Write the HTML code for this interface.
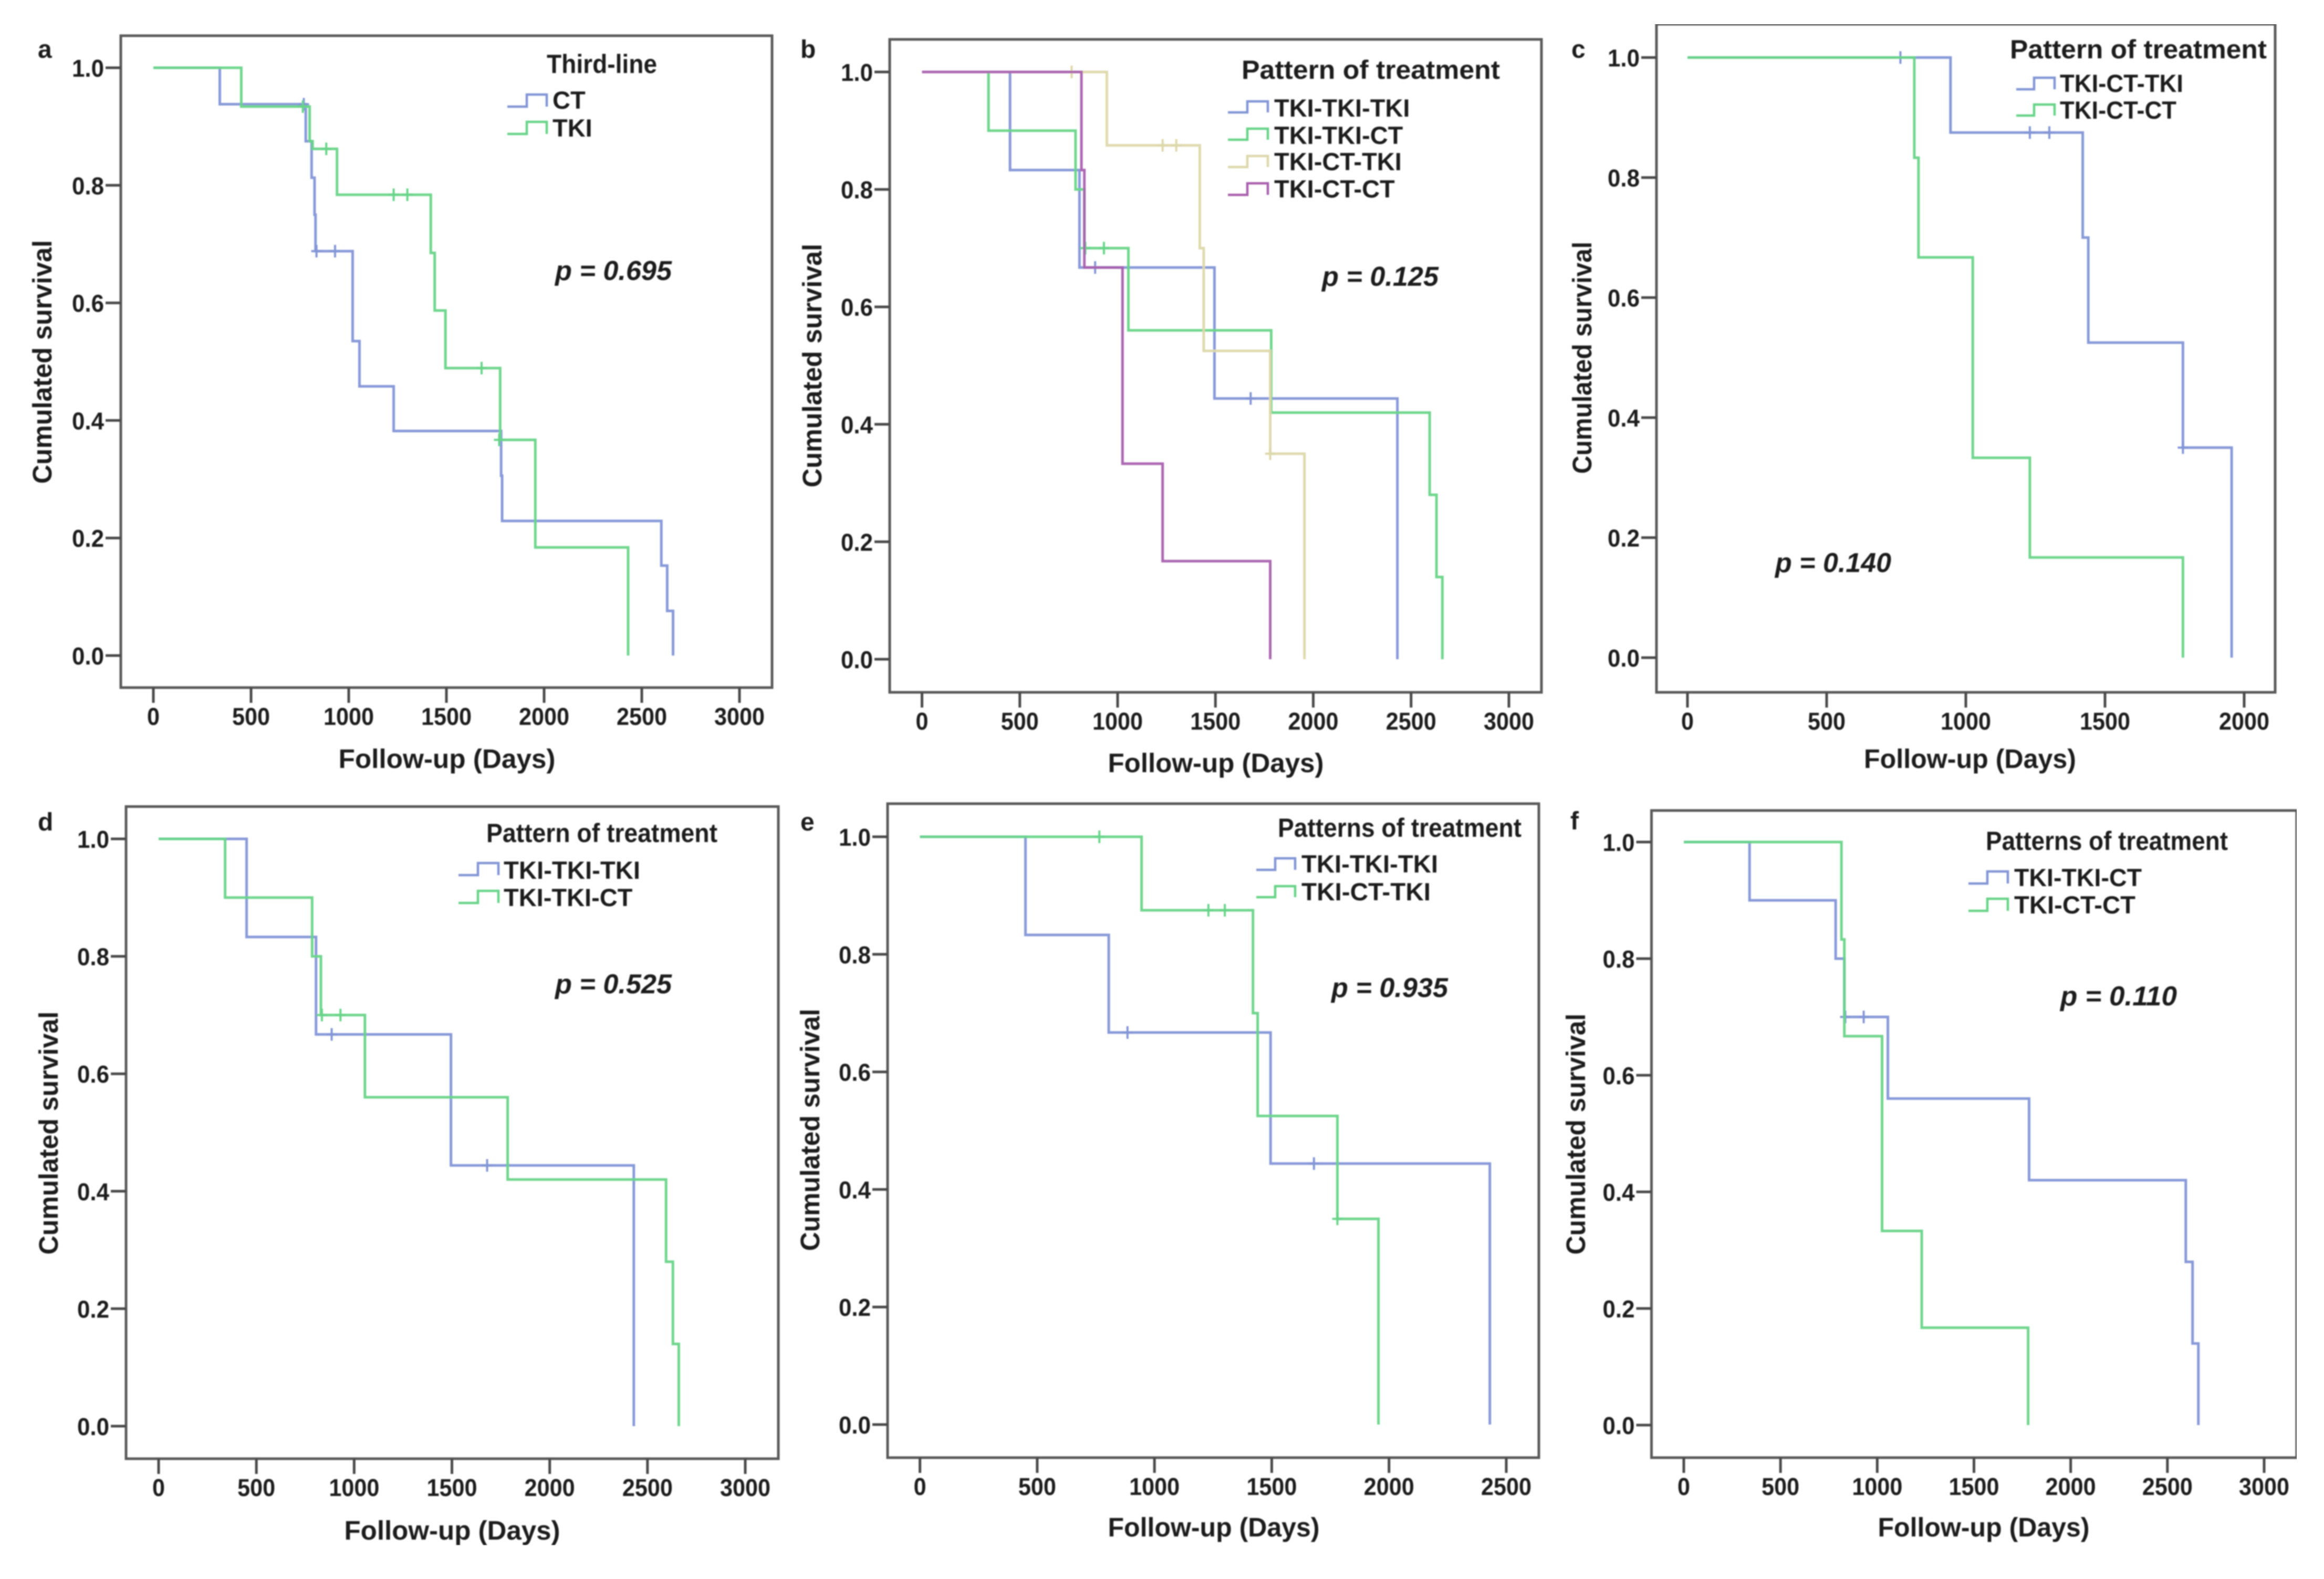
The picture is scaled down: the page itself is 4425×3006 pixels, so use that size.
<!DOCTYPE html>
<html lang="en">
<head>
<meta charset="utf-8">
<title>Kaplan-Meier survival curves by pattern of treatment</title>
<style>
html,body{margin:0;padding:0;background:#fff;width:4425px;height:3006px;overflow:hidden}
svg{display:block}
text{font-family:"Liberation Sans",Arial,sans-serif;font-weight:bold;fill:#1c1c1c}
.frame{fill:none;stroke:#5a5a5a;stroke-width:5}
.key{fill:none;stroke-width:4.5}
.pv{font-style:italic;font-size:52px}
.pl{font-size:48px}
.ax{font-size:51px}
.lg{font-size:47px}
.lt{font-size:50px}
</style>
</head>
<body>
<svg xmlns="http://www.w3.org/2000/svg" width="4425" height="3006" viewBox="0 0 4425 3006">
<defs><filter id="soft" x="0" y="0" width="1" height="1"><feGaussianBlur stdDeviation="1"/></filter></defs>
<g filter="url(#soft)">

<g id="panel-a">
<rect class="frame" x="230" y="68" width="1240" height="1241"/>
<text class="pl" x="72" y="110">a</text>
<text class="ax" x="851" y="1462" text-anchor="middle" textLength="413" lengthAdjust="spacingAndGlyphs">Follow-up (Days)</text>
<text class="ax" transform="translate(98 689) rotate(-90)" text-anchor="middle" textLength="464" lengthAdjust="spacingAndGlyphs">Cumulated survival</text>
<text class="lt" x="1041" y="139" textLength="210" lengthAdjust="spacingAndGlyphs">Third-line</text>
<path class="key" d="M966 203H1003V180H1041V203" stroke="#8295d6"/>
<text class="lg" x="1052" y="207">CT</text>
<path class="key" d="M966 255H1003V232H1041V255" stroke="#68d488"/>
<text class="lg" x="1052" y="260">TKI</text>
<text class="pv" x="1057" y="533" textLength="222" lengthAdjust="spacingAndGlyphs">p = 0.695</text>
</g>

<g id="panel-b">
<rect class="frame" x="1694" y="75" width="1241" height="1243"/>
<text class="pl" x="1524" y="110">b</text>
<text class="ax" x="2315" y="1470" text-anchor="middle" textLength="411" lengthAdjust="spacingAndGlyphs">Follow-up (Days)</text>
<text class="ax" transform="translate(1564 696) rotate(-90)" text-anchor="middle" textLength="464" lengthAdjust="spacingAndGlyphs">Cumulated survival</text>
<text class="lt" x="2364" y="150" textLength="492" lengthAdjust="spacingAndGlyphs">Pattern of treatment</text>
<path class="key" d="M2338 214H2375V193H2414V214" stroke="#8295d6"/>
<text class="lg" x="2426" y="222">TKI-TKI-TKI</text>
<path class="key" d="M2338 266H2375V245H2414V266" stroke="#68d488"/>
<text class="lg" x="2426" y="274">TKI-TKI-CT</text>
<path class="key" d="M2338 318H2375V297H2414V318" stroke="#ddd8aa"/>
<text class="lg" x="2426" y="324">TKI-CT-TKI</text>
<path class="key" d="M2338 371H2375V349H2414V371" stroke="#a860ae"/>
<text class="lg" x="2426" y="376">TKI-CT-CT</text>
<text class="pv" x="2517" y="544" textLength="222" lengthAdjust="spacingAndGlyphs">p = 0.125</text>
</g>

<g id="panel-c">
<rect class="frame" x="3154" y="46" width="1178" height="1272"/>
<text class="pl" x="2992" y="110">c</text>
<text class="ax" x="3751" y="1462" text-anchor="middle" textLength="404" lengthAdjust="spacingAndGlyphs">Follow-up (Days)</text>
<text class="ax" transform="translate(3030 681) rotate(-90)" text-anchor="middle" textLength="442" lengthAdjust="spacingAndGlyphs">Cumulated survival</text>
<text class="lt" x="3827" y="111" textLength="489" lengthAdjust="spacingAndGlyphs">Pattern of treatment</text>
<path class="key" d="M3839 170H3873V148H3912V170" stroke="#8295d6"/>
<text class="lg" x="3922" y="175" textLength="235" lengthAdjust="spacingAndGlyphs">TKI-CT-TKI</text>
<path class="key" d="M3839 220H3873V199H3912V220" stroke="#68d488"/>
<text class="lg" x="3922" y="226" textLength="222" lengthAdjust="spacingAndGlyphs">TKI-CT-CT</text>
<text class="pv" x="3380" y="1089" textLength="221" lengthAdjust="spacingAndGlyphs">p = 0.140</text>
</g>

<g id="panel-d">
<rect class="frame" x="240" y="1535.5" width="1242" height="1241.5"/>
<text class="pl" x="72" y="1581">d</text>
<text class="ax" x="861" y="2931" text-anchor="middle" textLength="411" lengthAdjust="spacingAndGlyphs">Follow-up (Days)</text>
<text class="ax" transform="translate(110 2157) rotate(-90)" text-anchor="middle" textLength="463" lengthAdjust="spacingAndGlyphs">Cumulated survival</text>
<text class="lt" x="926" y="1603" textLength="440" lengthAdjust="spacingAndGlyphs">Pattern of treatment</text>
<path class="key" d="M873 1666H910V1643H949V1666" stroke="#8295d6"/>
<text class="lg" x="959" y="1673" textLength="260" lengthAdjust="spacingAndGlyphs">TKI-TKI-TKI</text>
<path class="key" d="M873 1719H910V1696H949V1719" stroke="#68d488"/>
<text class="lg" x="959" y="1725">TKI-TKI-CT</text>
<text class="pv" x="1057" y="1891" textLength="222" lengthAdjust="spacingAndGlyphs">p = 0.525</text>
</g>

<g id="panel-e">
<rect class="frame" x="1690" y="1530" width="1240" height="1245"/>
<text class="pl" x="1524" y="1581">e</text>
<text class="ax" x="2311" y="2925" text-anchor="middle" textLength="403" lengthAdjust="spacingAndGlyphs">Follow-up (Days)</text>
<text class="ax" transform="translate(1560 2151) rotate(-90)" text-anchor="middle" textLength="461" lengthAdjust="spacingAndGlyphs">Cumulated survival</text>
<text class="lt" x="2433" y="1593" textLength="464" lengthAdjust="spacingAndGlyphs">Patterns of treatment</text>
<path class="key" d="M2392 1656H2428V1634H2466V1656" stroke="#8295d6"/>
<text class="lg" x="2478" y="1661" textLength="260" lengthAdjust="spacingAndGlyphs">TKI-TKI-TKI</text>
<path class="key" d="M2392 1708H2428V1687H2466V1708" stroke="#68d488"/>
<text class="lg" x="2478" y="1714" textLength="246" lengthAdjust="spacingAndGlyphs">TKI-CT-TKI</text>
<text class="pv" x="2535" y="1898" textLength="222" lengthAdjust="spacingAndGlyphs">p = 0.935</text>
</g>

<g id="panel-f">
<rect class="frame" x="3144.5" y="1543" width="1228.5" height="1232"/>
<text class="pl" x="2990" y="1579">f</text>
<text class="ax" x="3777" y="2925" text-anchor="middle" textLength="403" lengthAdjust="spacingAndGlyphs">Follow-up (Days)</text>
<text class="ax" transform="translate(3018 2159) rotate(-90)" text-anchor="middle" textLength="459" lengthAdjust="spacingAndGlyphs">Cumulated survival</text>
<text class="lt" x="3781" y="1618" textLength="461" lengthAdjust="spacingAndGlyphs">Patterns of treatment</text>
<path class="key" d="M3748 1682H3784V1659H3823V1682" stroke="#8295d6"/>
<text class="lg" x="3835" y="1687" textLength="243" lengthAdjust="spacingAndGlyphs">TKI-TKI-CT</text>
<path class="key" d="M3748 1734H3784V1711H3823V1734" stroke="#68d488"/>
<text class="lg" x="3835" y="1739" textLength="231" lengthAdjust="spacingAndGlyphs">TKI-CT-CT</text>
<text class="pv" x="3923" y="1914" textLength="222" lengthAdjust="spacingAndGlyphs">p = 0.110</text>
</g>
</g>
</svg>

<script>
// Axis ticks
const yTickValues = [0, 0.2, 0.4, 0.6, 0.8, 1.0];
const yTickLabels = ['0.0', '0.2', '0.4', '0.6', '0.8', '1.0'];
const xTicks3000 = [0, 500, 1000, 1500, 2000, 2500, 3000];
const xTicks2500 = [0, 500, 1000, 1500, 2000, 2500];
const xTicks2000 = [0, 500, 1000, 1500, 2000];

// Panel a: third-line CT
const ctDays = [340, 780, 810, 825, 830, 1020, 1055, 1230, 1780, 1785, 2600, 2630, 2660];
const ctSurv = [0.938, 0.875, 0.813, 0.75, 0.688, 0.535, 0.458, 0.382, 0.306, 0.229, 0.153, 0.076, 0];
const ctCensorDays = [770, 835, 930];
const ctCensorSurv = [0.938, 0.688, 0.688];

// Panel a: third-line TKI
const tkiDays = [450, 800, 815, 940, 1420, 1440, 1495, 1775, 1955, 2430];
const tkiSurv = [0.934, 0.875, 0.862, 0.784, 0.685, 0.587, 0.489, 0.367, 0.184, 0];
const tkiCensorDays = [765, 885, 1230, 1300, 1680, 1770];
const tkiCensorSurv = [0.934, 0.862, 0.784, 0.784, 0.489, 0.367];

// TKI-TKI-TKI
const tttDays = [450, 805, 1495, 2430];
const tttSurv = [0.833, 0.667, 0.444, 0];
const tttCensorDays = [885, 1680];
const tttCensorSurv = [0.667, 0.444];

// TKI-TKI-CT
const ttcDays = [340, 785, 830, 1055, 1785, 2595, 2630, 2660];
const ttcSurv = [0.9, 0.8, 0.7, 0.56, 0.42, 0.28, 0.14, 0];
const ttcCensorDays = [835, 930];
const ttcCensorSurv = [0.7, 0.7];

// TKI-CT-TKI
const cttDays = [945, 1420, 1440, 1780, 1955];
const cttSurv = [0.875, 0.7, 0.525, 0.35, 0];
const cttCensorDays = [765, 1230, 1300, 1780];
const cttCensorSurv = [1, 0.875, 0.875, 0.35];

// TKI-CT-CT
const ctcDays = [815, 830, 1025, 1230, 1780];
const ctcSurv = [0.833, 0.667, 0.333, 0.167, 0];
const ctcCensorDays = [];
const ctcCensorSurv = [];

const BLUE = '#8295d6', GREEN = '#68d488', BEIGE = '#ddd8aa', PURPLE = '#a860ae';
const NS = 'http://www.w3.org/2000/svg';

const serCT = {name: 'ct', d: ctDays, s: ctSurv, cd: ctCensorDays, cs: ctCensorSurv};
const serTKI = {name: 'tki', d: tkiDays, s: tkiSurv, cd: tkiCensorDays, cs: tkiCensorSurv};
const serTTT = {name: 'tki-tki-tki', d: tttDays, s: tttSurv, cd: tttCensorDays, cs: tttCensorSurv};
const serTTC = {name: 'tki-tki-ct', d: ttcDays, s: ttcSurv, cd: ttcCensorDays, cs: ttcCensorSurv};
const serCTT = {name: 'tki-ct-tki', d: cttDays, s: cttSurv, cd: cttCensorDays, cs: cttCensorSurv};
const serCTC = {name: 'tki-ct-ct', d: ctcDays, s: ctcSurv, cd: ctcCensorDays, cs: ctcCensorSurv};

const panels = [
  {id: 'a', left: 230, bottom: 1309, x0: 292, xEnd: 1408, xMax: 3000, xTicks: xTicks3000, y0: 1248, y1: 129,
   series: [[serCT, BLUE], [serTKI, GREEN]]},
  {id: 'b', left: 1694, bottom: 1318, x0: 1755.5, xEnd: 2873, xMax: 3000, xTicks: xTicks3000, y0: 1255, y1: 137,
   series: [[serTTT, BLUE], [serTTC, GREEN], [serCTT, BEIGE], [serCTC, PURPLE]]},
  {id: 'c', left: 3154, bottom: 1318, x0: 3213, xEnd: 4273, xMax: 2000, xTicks: xTicks2000, y0: 1252, y1: 109.5,
   series: [[serCTT, BLUE], [serCTC, GREEN]]},
  {id: 'd', left: 240, bottom: 2777, x0: 302, xEnd: 1419, xMax: 3000, xTicks: xTicks3000, y0: 2715, y1: 1597,
   series: [[serTTT, BLUE], [serTTC, GREEN]]},
  {id: 'e', left: 1690, bottom: 2775, x0: 1751.6, xEnd: 2868, xMax: 2500, xTicks: xTicks2500, y0: 2712, y1: 1593,
   series: [[serTTT, BLUE], [serCTT, GREEN]]},
  {id: 'f', left: 3144.5, bottom: 2775, x0: 3206, xEnd: 4311, xMax: 3000, xTicks: xTicks3000, y0: 2713, y1: 1603,
   series: [[serTTC, BLUE], [serCTC, GREEN]]}
];

function svgEl(tag, parent, attrs) {
  const el = document.createElementNS(NS, tag);
  for (const k in attrs) el.setAttribute(k, attrs[k]);
  parent.appendChild(el);
  return el;
}

panels.forEach(function (p) {
  const host = document.getElementById('panel-' + p.id);
  const sx = function (d) { return p.x0 + d * (p.xEnd - p.x0) / p.xMax; };
  const sy = function (v) { return p.y0 + v * (p.y1 - p.y0); };

  p.xTicks.forEach(function (t) {
    const tick = svgEl('line', host, {x1: sx(t), x2: sx(t), y1: p.bottom, y2: p.bottom + 29, stroke: '#484848', 'stroke-width': 5});
    
    
    const txt = String(t);
    const lab = svgEl('text', host, {x: sx(t), y: p.bottom + 71, 'text-anchor': 'middle', 'font-size': 46, textLength: txt.length * 24, lengthAdjust: 'spacingAndGlyphs'});
    lab.textContent = txt;
    
    
  });

  yTickValues.forEach(function (v, i) {
    const tick = svgEl('line', host, {x1: p.left - 29, x2: p.left, y1: sy(v), y2: sy(v), stroke: '#484848', 'stroke-width': 5});
    
    
    const lab = svgEl('text', host, {x: p.left - 32, y: sy(v) + 17, 'text-anchor': 'end', 'font-size': 46, textLength: 61, lengthAdjust: 'spacingAndGlyphs'});
    lab.textContent = yTickLabels[i];
    
    
  });

  p.series.forEach(function (pair) {
    const ser = pair[0], color = pair[1];
    let d = 'M' + sx(0) + ' ' + sy(1);
    ser.d.forEach(function (day, i) {
      d += 'H' + sx(day) + 'V' + sy(ser.s[i]);
    });
    const line = svgEl('path', host, {d: d, fill: 'none', stroke: color, 'stroke-width': 5, 'stroke-linejoin': 'miter', opacity: 0.95});
    
    
    ser.cd.forEach(function (day, i) {
      const cx = sx(day), cy = sy(ser.cs[i]);
      const mark = svgEl('path', host, {d: 'M' + (cx - 10) + ' ' + cy + 'H' + (cx + 10) + 'M' + cx + ' ' + (cy - 12) + 'V' + (cy + 12), fill: 'none', stroke: color, 'stroke-width': 4});
      
      
    });
  });
});
</script>
</body>
</html>
